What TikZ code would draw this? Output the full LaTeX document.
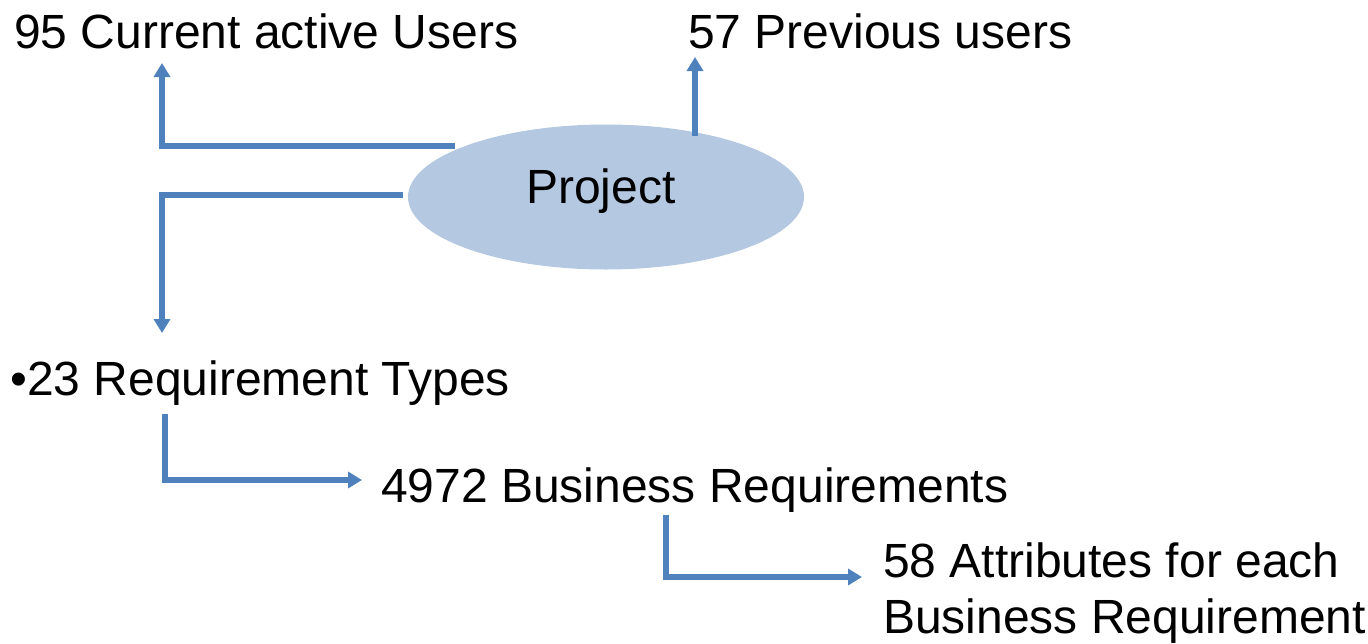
\documentclass[tikz,border=0pt]{standalone}
\usepackage{fontspec}
\setmainfont{Liberation Sans}
\usetikzlibrary{arrows.meta,shapes.geometric}
\definecolor{lineblue}{HTML}{4F81BD}
\definecolor{ellfill}{HTML}{B4C8E1}
\begin{document}
\begin{tikzpicture}[x=1pt,y=-1pt,
  lbl/.style={anchor=base west,inner sep=0pt,font=\fontsize{48}{56}\selectfont,text=black},
  conn/.style={draw=lineblue,line width=5.5pt,-{Triangle[width=16pt,length=14pt]}}]
\useasboundingbox (0,0) rectangle (1368,643);
\node[ellipse,fill=ellfill,minimum width=396pt,minimum height=145pt,inner sep=0pt] (proj) at (606,197) {};
\node[lbl,anchor=center] (ptxt) at (601,191) {Project};
\node[lbl] (cur) at (14,48) {95 Current active Users};
\node[lbl] (prev) at (688,48) {57 Previous users};
\node[lbl] (req) at (10,395) {\textbullet 23 Requirement Types};
\node[lbl] (bus) at (381,502) {4972 Business Requirements};
\node[lbl,align=left,anchor=north west] (att) at (883,543) {58 Attributes for each\\Business Requirement};
% connector start points
\coordinate (a1) at (455,146);
\coordinate (a2) at (403,195);
\coordinate (a3) at (695,136);
\coordinate (a4) at (165,414);
\coordinate (a5) at (666,515);
\coordinate (t1) at (162,63);
\coordinate (t2) at (162,333);
\coordinate (t3) at (695,57);
\coordinate (t4) at (362,480);
\coordinate (t5) at (862,577);
\draw[conn] (a1) -| (t1);
\draw[conn] (a2) -| (t2);
\draw[conn] (a3) -- (t3);
\draw[conn] (a4) |- (t4);
\draw[conn] (a5) |- (t5);
\end{tikzpicture}
\end{document}
